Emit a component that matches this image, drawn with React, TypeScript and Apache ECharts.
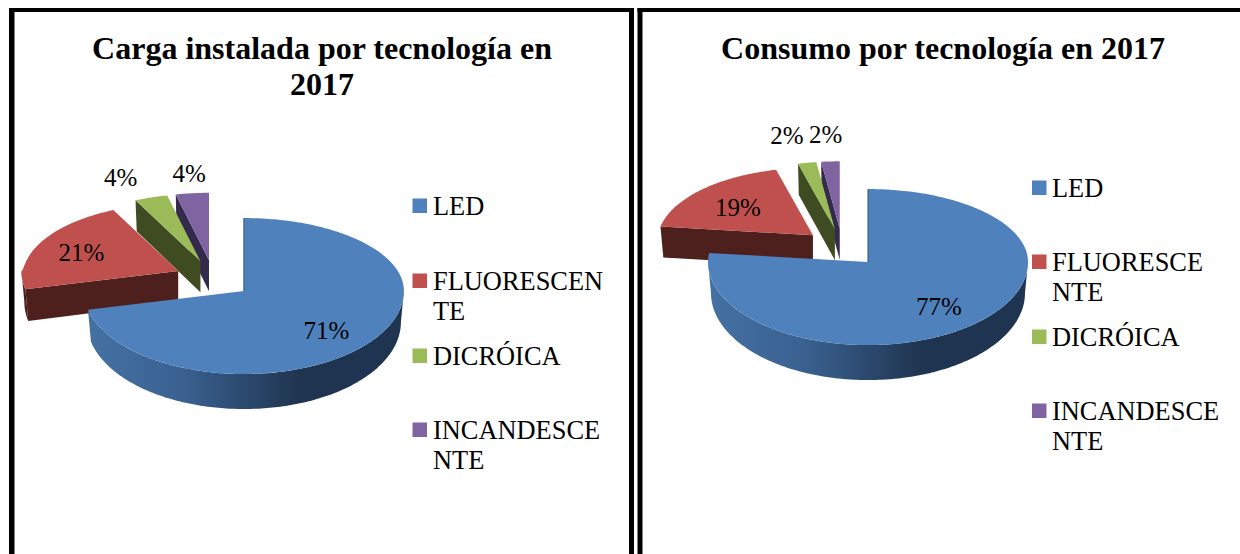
import React, { useEffect, useRef } from "react";
import * as echarts from "echarts";

const categories = ["LED", "FLUORESCENTE", "DICRÓICA", "INCANDESCENTE"];
const cargaTitle = "Carga instalada por tecnología en\n2017";
const consumoTitle = "Consumo por tecnología en 2017";
const cargaValues = [71.4, 21.4, 3.6, 3.6];
const consumoValues = [77, 19, 2, 2];
const cargaLegendLines = [["LED"], ["FLUORESCEN", "TE"], ["DICRÓICA"], ["INCANDESCE", "NTE"]];
const consumoLegendLines = [["LED"], ["FLUORESCE", "NTE"], ["DICRÓICA"], ["INCANDESCE", "NTE"]];

const SERIF = '"Liberation Serif", "Times New Roman", serif';
const faceColors = ["#4f81bd", "#c0504d", "#9bbb59", "#8064a2"];
const wallColors = ["#1f3450", "#4d1f1d", "#3f4c22", "#342a4d"];

const RX = 160, RY_BACK = 73, RY_FRONT = 83;
const BOTTOM_RX = 157, BOTTOM_RY_FRONT = 87, DEPTH = 31;
const EXPLODE_X = 39, EXPLODE_Y = 19;

const rad = (d: number) => (d * Math.PI) / 180;
// Slices pushed towards the back of the 3D scene look a little smaller.
const perspective = (isBack: boolean, c: number) =>
  isBack ? 0.98 - 0.055 * Math.sqrt(Math.max(0, c)) : 1;
const topRim = (a: number[], t: number, isBack: boolean) => {
  const c = Math.cos(rad(t));
  const k = perspective(isBack, c);
  return [a[0] + k * RX * Math.sin(rad(t)), a[1] - k * (c > 0 ? RY_BACK : RY_FRONT) * c];
};
const bottomRim = (a: number[], t: number, isBack: boolean) => {
  const c = Math.cos(rad(t));
  const k = perspective(isBack, c);
  return [a[0] + k * BOTTOM_RX * Math.sin(rad(t)), a[1] + DEPTH - k * (c > 0 ? RY_BACK : BOTTOM_RY_FRONT) * c];
};
const arc = (f: (t: number) => number[], from: number, to: number) => {
  const pts: number[][] = [];
  const n = Math.max(1, Math.ceil(Math.abs(to - from)));
  for (let i = 0; i <= n; i++) pts.push(f(from + ((to - from) * i) / n));
  return pts;
};

function pieSeries(
  values: number[],
  cx: number,
  cy: number,
  labelFrac: number[][],
) {
  const total = values.reduce((s, v) => s + v, 0);
  const order = [3, 2, 1, 0];
  let acc = 0;
  const ranges = values.map((v) => {
    const r = [acc, acc + (v / total) * 360];
    acc = r[1];
    return r;
  });
  return order.map((idx) => ({
    type: "custom",
    name: categories[idx],
    coordinateSystem: "none",
    silent: true,
    z: 2 + (3 - idx),
    itemStyle: { color: faceColors[idx] },
    data: [{ name: categories[idx], value: values[idx] }],
    renderItem: () => {
      const [s, e] = ranges[idx];
      const mid = (s + e) / 2;
      const isBack = Math.cos(rad(mid)) > 0;
      const apex = [
        cx + EXPLODE_X * Math.sin(rad(mid)),
        cy - EXPLODE_Y * Math.cos(rad(mid)),
      ];
      const tf = (t: number) => topRim(apex, t, isBack);
      const bf = (t: number) => bottomRim(apex, t, isBack);
      const children: any[] = [];
      const apexB = [apex[0], apex[1] + DEPTH];
      const wallFill = (i: number) =>
        i === 0
          ? new echarts.graphic.LinearGradient(0, 0, 1, 0, [
              { offset: 0, color: "#4471a3" },
              { offset: 0.3, color: "#3a6190" },
              { offset: 0.67, color: "#1f3450" },
              { offset: 1, color: "#1f3450" },
            ])
          : wallColors[i];
      if (s > 180 && s < 360) {
        children.push({
          type: "polygon",
          shape: { points: [apex, tf(s), bf(s), apexB] },
          style: { fill: wallColors[idx] },
        });
      }
      if (e > 0 && e < 180) {
        children.push({
          type: "polygon",
          shape: { points: [apex, tf(e), bf(e), apexB] },
          style: { fill: wallColors[idx] },
        });
      }
      const a0 = Math.max(s, 90), a1 = Math.min(e, 270);
      if (a1 > a0) {
        children.push({
          type: "polygon",
          shape: { points: [...arc(tf, a0, a1), ...arc(bf, a1, a0)] },
          style: { fill: wallFill(idx) },
        });
      }
      children.push({
        type: "polygon",
        shape: { points: [apex, ...arc(tf, s, e)] },
        style: { fill: faceColors[idx] },
      });
      if (s === 0) {
        const tp = tf(0);
        children.push({
          type: "line",
          shape: { x1: apex[0], y1: apex[1], x2: tp[0], y2: tp[1] },
          style: { stroke: "#2f5078", lineWidth: 1 },
        });
      }
      const [fx, fy] = labelFrac[idx];
      const c = Math.cos(rad(mid));
      children.push({
        type: "text",
        z2: 10,
        style: {
          text: `${Math.round(values[idx])}%`,
          x: apex[0] + RX * fx * Math.sin(rad(mid)),
          y: apex[1] - (c > 0 ? RY_BACK : RY_FRONT) * fy * c,
          fill: "#000000",
          font: `25px ${SERIF}`,
          align: "center",
          verticalAlign: "middle",
        },
      });
      return { type: "group", children };
    },
  }));
}

function legendGraphics(lines: string[][], iconX: number, textX: number, centers: number[]) {
  const els: any[] = [];
  lines.forEach((ls, i) => {
    els.push({
      type: "rect",
      shape: { x: iconX, y: centers[i] - 7.5, width: 14.5, height: 14.5 },
      style: { fill: faceColors[i] },
    });
    ls.forEach((t, j) => {
      els.push({
        type: "text",
        style: {
          text: t,
          x: textX,
          y: centers[i] + j * 30,
          fill: "#000000",
          font: `26.4px ${SERIF}`,
          verticalAlign: "middle",
        },
      });
    });
  });
  return els;
}

const bar = (x: number, y: number, width: number, height: number) => ({
  type: "rect",
  shape: { x, y, width, height },
  style: { fill: "#000000" },
});

export default function App() {
  const ref = useRef<HTMLDivElement>(null);
  useEffect(() => {
    document.body.style.margin = "0";
    document.body.style.overflow = "hidden";
    const chart = echarts.init(ref.current!, null, { renderer: "svg" });
    chart.setOption({
      animation: false,
      backgroundColor: "#ffffff",
      title: [
        {
          text: cargaTitle,
          left: 317,
          top: 25,
          textAlign: "center",
          textStyle: { fontFamily: SERIF, fontWeight: "bold", fontSize: 32, lineHeight: 36, color: "#000000" },
        },
        {
          text: consumoTitle,
          left: 938,
          top: 25,
          textAlign: "center",
          textStyle: { fontFamily: SERIF, fontWeight: "bold", fontSize: 32, lineHeight: 36, color: "#000000" },
        },
      ],
      series: [
        ...pieSeries(cargaValues, 213.4, 279.2, [[0.66, 0.76], [0.67, 0.6], [1.5, 1.22], [1.1, 1.2]]),
        ...pieSeries(consumoValues, 842.2, 247.8, [[0.67, 0.71], [0.625, 0.58], [1.6, 1.31], [1.4, 1.29]]),
      ],
      graphic: {
        elements: [
          bar(9, 8, 625, 4),
          bar(9, 8, 5.5, 546),
          bar(629, 8, 5, 546),
          bar(637.5, 8, 602.5, 4),
          bar(637.5, 8, 5, 546),
          ...legendGraphics(cargaLegendLines, 412.5, 433, [206, 281, 356, 430]),
          ...legendGraphics(consumoLegendLines, 1032, 1052, [188, 262, 337, 411]),
        ],
      },
    });
    return () => chart.dispose();
  }, []);
  return <div ref={ref} style={{ width: 1240, height: 554 }} />;
}
